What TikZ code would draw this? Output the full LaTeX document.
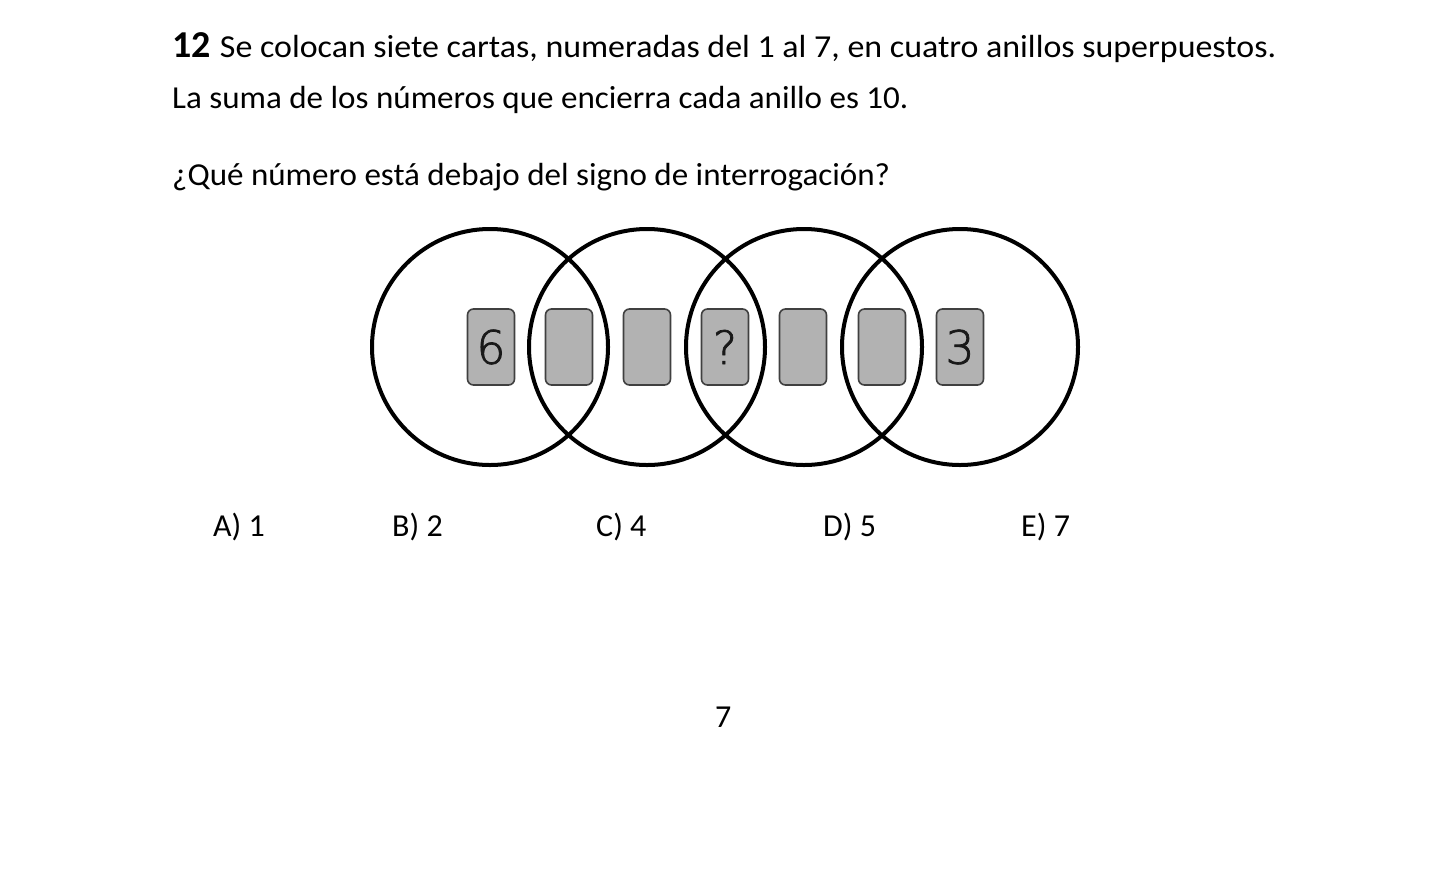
\documentclass[tikz,border=0pt]{standalone}
\usepackage{fontspec}
\setmainfont{Carlito}
\newfontfamily\cardfont{DejaVu Sans}[UprightFont=* ExtraLight,FakeBold=1.6]
\begin{document}
\begin{tikzpicture}[x=1pt,y=-1pt,
  ring/.style={draw=black,line width=4pt},
  card/.style={draw=black!75,fill=black!30,line width=1.6pt,rounded corners=6pt,minimum width=47pt,minimum height=76pt,inner sep=0pt,font=\cardfont\fontsize{46}{46}\selectfont\color{black!90}},
  txt/.style={anchor=base west,inner sep=0pt,font=\fontsize{32}{34}\selectfont}]
\useasboundingbox (0,0) rectangle (1446,884);
\node[txt] (l1) at (172,57) {{\fontsize{38}{40}\selectfont\textbf{12}}\hspace{2pt} \scalebox{1.06}[1]{Se colocan siete cartas, numeradas del 1 al 7, en cuatro anillos superpuestos.}};
\node[txt] (l2) at (172,108) {\scalebox{1.033}[1]{La suma de los números que encierra cada anillo es 10.}};
\node[txt] (l3) at (172,185) {\scalebox{1.033}[1]{¿Qué número está debajo del signo de interrogación?}};
\foreach \c/\n in {490/r1,647/r2,804/r3,960/r4}
  \draw[ring] (\c,347) circle (118);
\node[card] (c1) at (491,347) {6};
\node[card] (c2) at (569,347) {};
\node[card] (c3) at (647,347) {};
\node[card] (c4) at (725,347) {?};
\node[card] (c5) at (803,347) {};
\node[card] (c6) at (882,347) {};
\node[card] (c7) at (960,347) {3};
\node[txt] (a) at (213,536) {A) 1};
\node[txt] (b) at (392,536) {B) 2};
\node[txt] (c) at (596,536) {C) 4};
\node[txt] (d) at (823,536) {D) 5};
\node[txt] (e) at (1021,536) {E) 7};
\node[txt] (pg) at (715,727) {7};
\end{tikzpicture}
\end{document}
